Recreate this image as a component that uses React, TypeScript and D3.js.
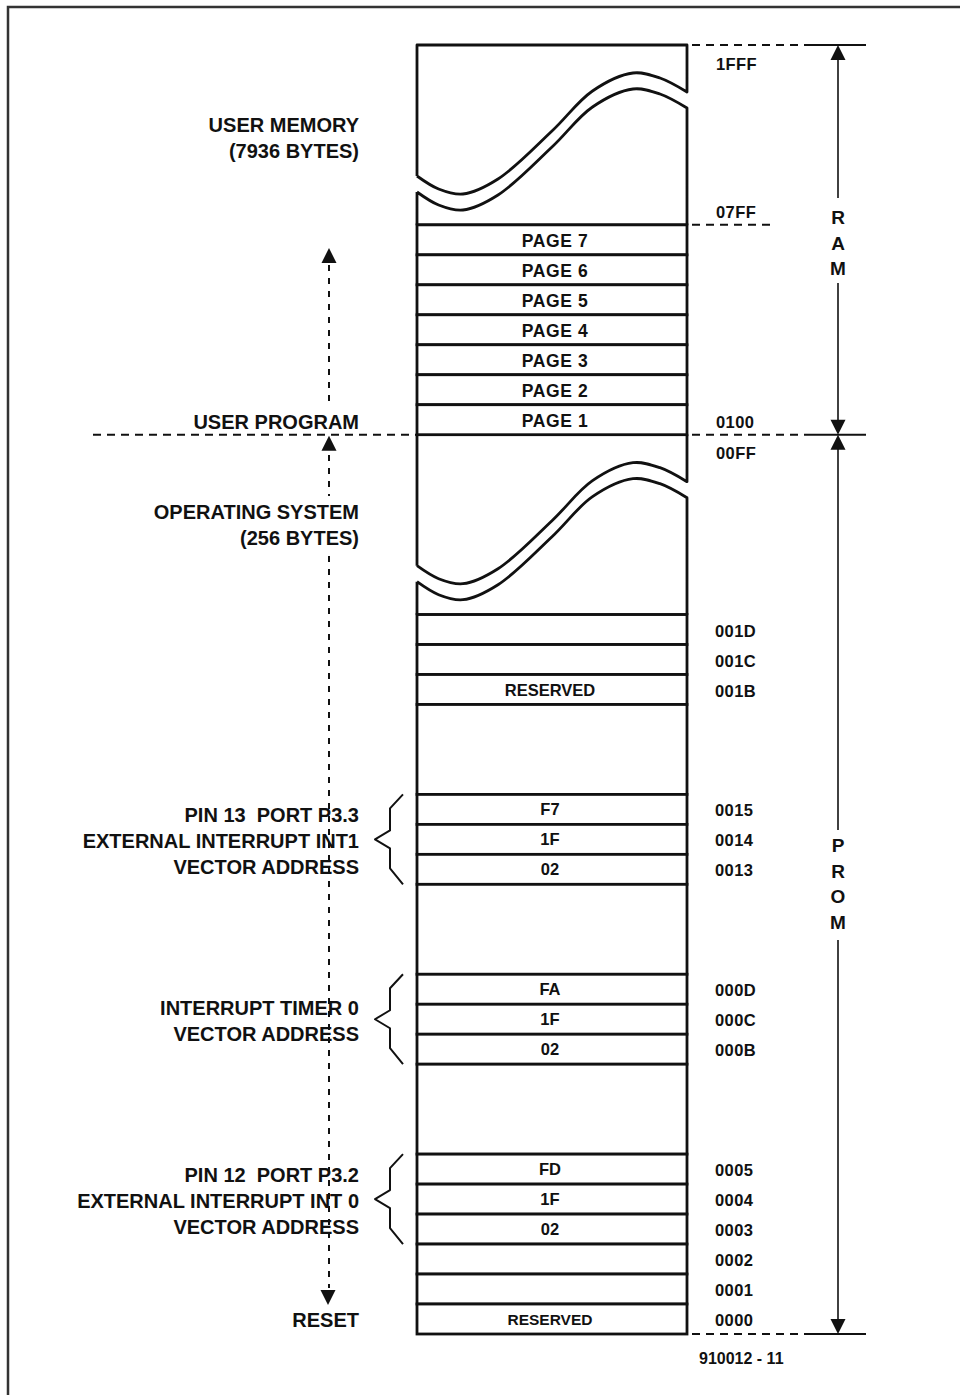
import React from "react";
import * as d3 from "d3";

// ---------- data ----------
const TOTAL_SLOTS = 43; // memory map drawn in equal "row slots"
const upperBreakSlots = [0, 6];
const pageLabels = ["PAGE 7", "PAGE 6", "PAGE 5", "PAGE 4", "PAGE 3", "PAGE 2", "PAGE 1"];
const pageStartSlot = 6;
const osBreakSlots = [13, 19];
const cellLabels = ["", "", "RESERVED", "", "F7", "1F", "02", "", "FA", "1F", "02", "", "FD", "1F", "02", "", "", "RESERVED"];
const cellAddrs = ["001D", "001C", "001B", "", "0015", "0014", "0013", "", "000D", "000C", "000B", "", "0005", "0004", "0003", "0002", "0001", "0000"];
const cellSpans = [1, 1, 1, 3, 1, 1, 1, 3, 1, 1, 1, 3, 1, 1, 1, 1, 1, 1];
const cellStartSlot = 19;
const upperAddrs = ["1FFF", "07FF", "0100", "00FF"];
const upperAddrSlots = [0.83, 5.77, 12.77, 13.8];
const braceGroups = [[25, 28], [31, 34], [37, 40]];
const leftLabels = [
  ["USER MEMORY", "(7936 BYTES)"],
  ["USER PROGRAM"],
  ["OPERATING SYSTEM", "(256 BYTES)"],
  ["PIN 13  PORT P3.3", "EXTERNAL INTERRUPT INT1", "VECTOR ADDRESS"],
  ["INTERRUPT TIMER 0", "VECTOR ADDRESS"],
  ["PIN 12  PORT P3.2", "EXTERNAL INTERRUPT INT 0", "VECTOR ADDRESS"],
  ["RESET"],
];
const leftLabelSlots = [3.03, 12.5, 15.94, 26.5, 32.5, 38.5, 42.46];
const ramLetters = ["R", "A", "M"];
const promLetters = ["P", "R", "O", "M"];
const figureId = "910012 - 11";
// break-symbol wave: [fraction of width, offset below block top]
const wavePoints: [number, number][] = [
  [0, 131], [0.08, 144], [0.17, 149], [0.3, 134], [0.5, 86], [0.65, 46], [0.8, 28], [0.9, 33], [1, 47],
];
const waveGap = 16;

// ---------- layout ----------
const W = 960, H = 1395;
const xL = 417, xR = 687;
const FONT = "'Liberation Sans', Arial, Helvetica, sans-serif";
const INK = "#111";

export default function App() {
  const y = d3.scaleLinear().domain([0, TOTAL_SLOTS]).range([45, 1334]);
  const xw = d3.scaleLinear().domain([0, 1]).range([xL, xR]);

  const breakPaths = (slotTop: number, slotBottom: number) => {
    const top = y(slotTop);
    const bottom = y(slotBottom);
    const rev = wavePoints.slice().reverse();
    const curve = d3.curveCatmullRom.alpha(0.5);
    const lineUp = d3.line<[number, number]>().x(d => xw(d[0])).y(d => top + d[1]).curve(curve);
    const lineLo = d3.line<[number, number]>().x(d => xw(d[0])).y(d => top + d[1] + waveGap).curve(curve);
    const upper =
      `M${xL},${top + wavePoints[0][1]} L${xL},${top} L${xR},${top} L${xR},${top + wavePoints[wavePoints.length - 1][1]} ` +
      (lineUp(rev) || "").replace(/^M/, "L");
    const lower =
      `M${xL},${top + wavePoints[0][1] + waveGap} L${xL},${bottom} L${xR},${bottom} L${xR},${top + wavePoints[wavePoints.length - 1][1] + waveGap} ` +
      (lineLo(rev) || "").replace(/^M/, "L");
    return [upper, lower];
  };

  const [uUp, uLo] = breakPaths(upperBreakSlots[0], upperBreakSlots[1]);
  const [oUp, oLo] = breakPaths(osBreakSlots[0], osBreakSlots[1]);

  let acc = cellStartSlot;
  const cells = cellLabels.map((lab, i) => {
    const s0 = acc;
    acc += cellSpans[i];
    return { lab, addr: cellAddrs[i], s0, s1: acc };
  });

  const arrow = (x: number, tip: number, dir: 1 | -1, hw = 7.5, len = 15) =>
    `M${x},${tip} L${x - hw},${tip + dir * len} L${x + hw},${tip + dir * len} Z`;

  const dashV = (x: number, y0: number, y1: number, key: string) => (
    <line key={key} x1={x} x2={x} y1={y0} y2={y1} stroke={INK} strokeWidth={2} strokeDasharray="6 7" />
  );

  const xArrow = 329;
  const xRam = 838;

  return (
    <div style={{ position: "absolute", left: 0, top: 0 }}>
      <svg width={W} height={H} style={{ display: "block", background: "#fff" }}>
        <rect x={8} y={7} width={1000} height={1500} fill="none" stroke="#333" strokeWidth={2.5} />

        {[uUp, uLo, oUp, oLo].map((d, i) => (
          <path key={"b" + i} d={d} fill="#fff" stroke={INK} strokeWidth={2.8} strokeLinejoin="round" />
        ))}

        {pageLabels.map((p, i) => {
          const t = y(pageStartSlot + i), b = y(pageStartSlot + i + 1);
          return (
            <g key={p}>
              <rect x={xL} y={t} width={xR - xL} height={b - t} fill="#fff" stroke={INK} strokeWidth={2.8} />
              <text x={(xL + xR) / 2 + 3} y={(t + b) / 2 + 7.5} textAnchor="middle" fontFamily={FONT} fontWeight="bold"
                fontSize={17.5} letterSpacing={0.6} fill={INK}>{p}</text>
            </g>
          );
        })}

        {cells.map((c, i) => {
          const t = y(c.s0), b = y(c.s1);
          return (
            <g key={"c" + i}>
              <rect x={xL} y={t} width={xR - xL} height={b - t} fill="#fff" stroke={INK} strokeWidth={2.8} />
              {c.lab && (
                <text x={(xL + xR) / 2 - 2} y={(t + b) / 2 + 6} textAnchor="middle" fontFamily={FONT} fontWeight="bold"
                  fontSize={c.lab === "RESERVED" ? (i === 2 ? 16.5 : 15.5) : 16.5} fill={INK}>{c.lab}</text>
              )}
              {c.addr && (
                <text x={715} y={(t + b) / 2 + 7} fontFamily={FONT} fontWeight="bold" fontSize={16.5} letterSpacing={0.4} fill={INK}>{c.addr}</text>
              )}
            </g>
          );
        })}

        {upperAddrs.map((a, i) => (
          <text key={a} x={716} y={y(upperAddrSlots[i])} fontFamily={FONT} fontWeight="bold" fontSize={16.5} letterSpacing={0.4} fill={INK}>{a}</text>
        ))}

        {[0, 13, 43].map(s => (
          <g key={"h" + s}>
            <line x1={692} x2={808} y1={y(s)} y2={y(s)} stroke={INK} strokeWidth={2} strokeDasharray="8 6" />
            <line x1={808} x2={866} y1={y(s)} y2={y(s)} stroke={INK} strokeWidth={2} />
          </g>
        ))}
        <line x1={692} x2={776} y1={y(6)} y2={y(6)} stroke={INK} strokeWidth={2} strokeDasharray="8 6" />
        <line x1={93} x2={xL} y1={y(13)} y2={y(13)} stroke={INK} strokeWidth={2} strokeDasharray="8 6" />

        <line x1={xRam} x2={xRam} y1={y(0) + 10} y2={198} stroke={INK} strokeWidth={1.6} />
        <line x1={xRam} x2={xRam} y1={283} y2={y(13) - 10} stroke={INK} strokeWidth={1.6} />
        <path d={arrow(xRam, y(0), 1)} fill={INK} />
        <path d={arrow(xRam, y(13), -1)} fill={INK} />
        {ramLetters.map((l, i) => (
          <text key={"r" + i} x={xRam} y={224 + i * 25.5} textAnchor="middle" fontFamily={FONT} fontWeight="bold" fontSize={19} fill={INK}>{l}</text>
        ))}

        <line x1={xRam} x2={xRam} y1={y(13) + 10} y2={830} stroke={INK} strokeWidth={1.6} />
        <line x1={xRam} x2={xRam} y1={940} y2={y(43) - 10} stroke={INK} strokeWidth={1.6} />
        <path d={arrow(xRam, y(13), 1)} fill={INK} />
        <path d={arrow(xRam, y(43), -1)} fill={INK} />
        {promLetters.map((l, i) => (
          <text key={"p" + i} x={xRam} y={852 + i * 25.7} textAnchor="middle" fontFamily={FONT} fontWeight="bold" fontSize={19} fill={INK}>{l}</text>
        ))}

        <path d={arrow(xArrow, 248, 1)} fill={INK} />
        {dashV(xArrow, 265, 406, "d1")}
        <path d={arrow(xArrow, y(13) + 1, 1)} fill={INK} />
        {dashV(xArrow, 455, 496, "d2")}
        {dashV(xArrow, 556, 1288, "d3")}
        <path d={arrow(xArrow - 1, 1305, -1)} fill={INK} />

        {braceGroups.map(([s0, s1], i) => {
          const t = y(s0), b = y(s1), m = (t + b) / 2;
          const pts: [number, number][] = [
            [403, t], [390, t + 14], [390, m - 9], [375, m], [390, m + 9], [390, b - 16], [403, b],
          ];
          return <path key={"br" + i} d={d3.line()(pts) || ""} fill="none" stroke={INK} strokeWidth={2} strokeLinejoin="round" />;
        })}

        {leftLabels.map((lines, i) => {
          const c = y(leftLabelSlots[i]);
          const n = lines.length;
          return (
            <g key={"l" + i}>
              {lines.map((ln, j) => (
                <text key={j} x={359} y={c + 9 + (j - (n - 1) / 2) * 26} textAnchor="end" fontFamily={FONT}
                  fontWeight="bold" fontSize={20} fill={INK} style={{ whiteSpace: "pre" }}>{ln}</text>
              ))}
            </g>
          );
        })}

        <text x={699} y={1364} fontFamily={FONT} fontWeight="bold" fontSize={16} fill={INK} style={{ whiteSpace: "pre" }}>{figureId}</text>
      </svg>
    </div>
  );
}
